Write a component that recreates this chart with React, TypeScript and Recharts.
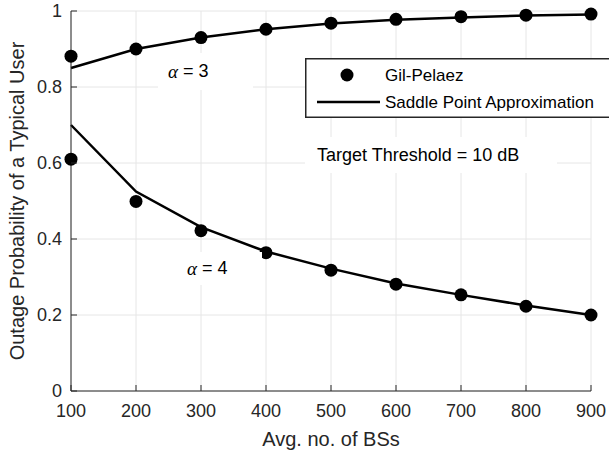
import { ComposedChart, Line, XAxis, YAxis, CartesianGrid, Legend } from 'recharts';

const bsCounts = [100, 200, 300, 400, 500, 600, 700, 800, 900];

// alpha = 3
const gilPelaezA3 = [0.881, 0.9, 0.93, 0.952, 0.968, 0.978, 0.985, 0.989, 0.992];
const saddleA3 = [0.85, 0.9, 0.93, 0.952, 0.967, 0.977, 0.983, 0.988, 0.991];

// alpha = 4
const gilPelaezA4 = [0.61, 0.499, 0.422, 0.364, 0.318, 0.281, 0.253, 0.223, 0.2];
const saddleA4 = [0.7, 0.525, 0.431, 0.367, 0.322, 0.283, 0.253, 0.225, 0.2];

const xTicks = [100, 200, 300, 400, 500, 600, 700, 800, 900];
const yTicks = [0, 0.2, 0.4, 0.6, 0.8, 1];

const FONT = '"Liberation Sans", Arial, Helvetica, sans-serif';
const AXIS = '#262626';
const GRID = '#e6e6e6';
const TICK_LEN = 6;

const chartData = bsCounts.map((n, i) => ({
  n,
  gp3: gilPelaezA3[i],
  spa3: saddleA3[i],
  gp4: gilPelaezA4[i],
  spa4: saddleA4[i],
}));

const BottomTick = ({ x, y, payload }: any) => (
  <g>
    <line x1={x} x2={x} y1={y} y2={y - TICK_LEN} stroke={AXIS} />
    <text x={x} y={y + 26} textAnchor="middle" fill={AXIS} fontSize={18} fontFamily={FONT}>
      {payload.value}
    </text>
  </g>
);

const TopTick = ({ x, y }: any) => (
  <line x1={x} x2={x} y1={y} y2={y + TICK_LEN} stroke={AXIS} />
);

const LeftTick = ({ x, y, payload }: any) => (
  <g>
    <line x1={x} x2={x + TICK_LEN} y1={y} y2={y} stroke={AXIS} />
    <text x={x - 9} y={y} dy="0.36em" textAnchor="end" fill={AXIS} fontSize={18} fontFamily={FONT}>
      {payload.value}
    </text>
  </g>
);

const RightTick = ({ x, y }: any) => (
  <line x1={x} x2={x - TICK_LEN} y1={y} y2={y} stroke={AXIS} />
);

// legend box runs past the right edge of the figure, like the original
const LegendBox = ({ payload }: any) => {
  const items = (payload || []).filter((e: any) => e.type !== 'none' && (e.dataKey === 'gp3' || e.dataKey === 'spa3'));
  return (
    <svg width={304} height={60} style={{ display: 'block' }}>
      <rect x={0.75} y={0.75} width={320} height={58.5} fill="#fff" stroke={AXIS} strokeWidth={1.5} />
      {items.map((entry: any, i: number) => {
        const cy = 17 + i * 27;
        return (
          <g key={i}>
            {entry.dataKey === 'gp3' ? (
              <circle cx={42} cy={cy} r={6.5} fill="#000" />
            ) : (
              <line x1={12} x2={75} y1={cy} y2={cy} stroke="#000" strokeWidth={2.5} />
            )}
            <text x={80} y={cy} dy="0.36em" fontSize={17} fontFamily={FONT} fill="#000">
              {entry.value}
            </text>
          </g>
        );
      })}
    </svg>
  );
};

const noteStyle = (left: number, top: number, width: number, height: number, pad: number): React.CSSProperties => ({
  position: 'absolute',
  left,
  top,
  width,
  height,
  background: '#fff',
  fontFamily: FONT,
  fontSize: 18,
  color: '#000',
  display: 'flex',
  alignItems: 'center',
  paddingLeft: pad,
  boxSizing: 'border-box',
  whiteSpace: 'nowrap',
});

const Alpha = () => (
  <span style={{ fontFamily: '"Liberation Serif", "Times New Roman", serif', fontStyle: 'italic', fontSize: 19 }}>α</span>
);

export default function App() {
  return (
    <div style={{ position: 'absolute', left: 0, top: 0, width: 609, height: 453, background: '#fff', overflow: 'hidden' }}>
      <ComposedChart width={609} height={453} data={chartData} margin={{ top: 11, right: 18, bottom: 0, left: 0 }}>
        <CartesianGrid stroke={GRID} strokeWidth={1} />
        <XAxis
          dataKey="n"
          type="number"
          domain={[100, 900]}
          ticks={xTicks}
          height={62}
          tickSize={0}
          tickMargin={0}
          tick={<BottomTick />}
          axisLine={{ stroke: AXIS }}
          tickLine={false}
          label={{ value: 'Avg. no. of BSs', position: 'insideBottom', offset: 7, fill: AXIS, fontSize: 20, fontFamily: FONT }}
        />
        <XAxis
          xAxisId="top"
          dataKey="n"
          type="number"
          orientation="top"
          domain={[100, 900]}
          ticks={xTicks}
          height={0}
          tickSize={0}
          tickMargin={0}
          tick={<TopTick />}
          axisLine={{ stroke: AXIS }}
          tickLine={false}
        />
        <YAxis
          type="number"
          domain={[0, 1]}
          ticks={yTicks}
          width={71}
          tickSize={0}
          tickMargin={0}
          tick={<LeftTick />}
          axisLine={{ stroke: AXIS }}
          tickLine={false}
        />
        <YAxis
          yAxisId="right"
          type="number"
          orientation="right"
          domain={[0, 1]}
          ticks={yTicks}
          width={0}
          tickSize={0}
          tickMargin={0}
          tick={<RightTick />}
          axisLine={{ stroke: AXIS }}
          tickLine={false}
        />
        <Line dataKey="gp3" name="Gil-Pelaez" stroke="none" dot={{ r: 6.5, fill: '#000', stroke: 'none' }} isAnimationActive={false} />
        <Line dataKey="spa3" name="Saddle Point Approximation" stroke="#000" strokeWidth={2.5} dot={false} isAnimationActive={false} />
        <Line dataKey="gp4" legendType="none" stroke="none" dot={{ r: 6.5, fill: '#000', stroke: 'none' }} isAnimationActive={false} />
        <Line dataKey="spa4" legendType="none" stroke="#000" strokeWidth={2.5} dot={false} isAnimationActive={false} />
        <Legend
          layout="vertical"
          align="center"
          verticalAlign="middle"
          content={<LegendBox />}
          wrapperStyle={{ left: 305, top: 58, width: 304, height: 60, margin: 0 }}
        />
      </ComposedChart>

      <div style={noteStyle(158, 53, 95, 37, 10)}>
        <Alpha />&nbsp;= 3
      </div>
      <div style={noteStyle(177, 252, 85, 33, 10)}>
        <Alpha />&nbsp;= 4
      </div>
      <div style={noteStyle(305, 137, 252, 36, 12)}>Target Threshold = 10 dB</div>

      <div
        style={{
          position: 'absolute',
          left: 17,
          top: 201,
          transform: 'translate(-50%, -50%) rotate(-90deg)',
          whiteSpace: 'nowrap',
          fontFamily: FONT,
          fontSize: 20,
          color: AXIS,
        }}
      >
        Outage Probability of a Typical User
      </div>
    </div>
  );
}
